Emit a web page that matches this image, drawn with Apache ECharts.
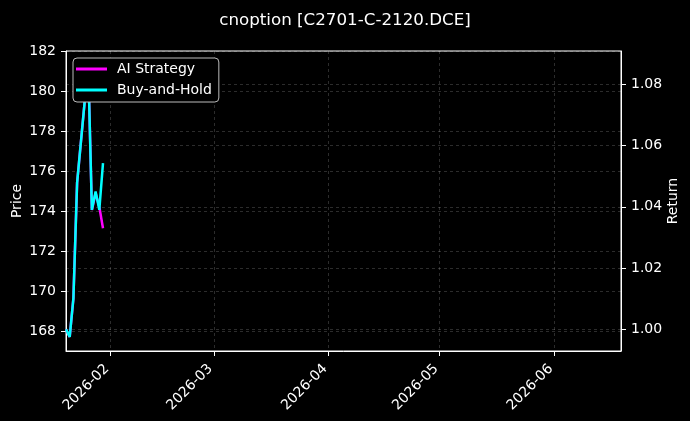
<!DOCTYPE html>
<html>
<head>
<meta charset="utf-8">
<script src="https://cdn.jsdelivr.net/npm/echarts@6/dist/echarts.min.js"></script>
<style>
  html, body { margin: 0; padding: 0; background: #000; }
  #main { width: 690px; height: 421px; }
</style>
</head>
<body>
<div id="main"></div>
<script>
// trading days shown in the chart
var dates = ['2026-01-20', '2026-01-21', '2026-01-22', '2026-01-23', '2026-01-26',
             '2026-01-27', '2026-01-28', '2026-01-29', '2026-01-30'];
// cumulative return
var aiStrategy = [1.000, 0.9975, 1.0101, 1.0478, 1.0867, 1.0390, 1.0445, 1.0400, 1.0330];
var buyHold    = [1.000, 0.9975, 1.0101, 1.0478, 1.0867, 1.0390, 1.0450, 1.0390, 1.0543];

var monthTicks  = ['2026-02-01', '2026-03-01', '2026-04-01', '2026-05-01', '2026-06-01'];
var priceTicks  = [168, 170, 172, 174, 176, 178, 180, 182];
var returnTicks = [1.00, 1.02, 1.04, 1.06, 1.08];

function ts(s) { return new Date(s + 'T00:00:00').getTime(); }
function pair(vals) {
    return dates.map(function (d, i) { return [ts(d), vals[i]]; });
}
var monthTs = monthTicks.map(ts);

var font = 'DejaVu Sans';
var gridLine = { show: true, lineStyle: { color: 'rgba(255,255,255,0.22)', type: [3, 3], width: 0.8 } };

var myChart = echarts.init(document.getElementById('main'));
var option = {
    backgroundColor: '#000',
    animation: false,
    textStyle: { fontFamily: font },
    title: {
        text: 'cnoption [C2701-C-2120.DCE]',
        left: 'center',
        top: 7,
        textStyle: { color: '#fff', fontSize: 16.7, fontWeight: 'normal', fontFamily: font }
    },
    legend: {
        left: 73,
        top: 58,
        orient: 'vertical',
        itemGap: 7,
        itemWidth: 31,
        itemHeight: 3,
        icon: 'rect',
        padding: [4, 7, 5, 3],
        backgroundColor: '#000',
        borderColor: '#bbb',
        borderWidth: 1,
        borderRadius: 4,
        textStyle: { color: '#fff', fontSize: 14, fontFamily: font, padding: [0, 0, 0, 5] },
        data: ['AI Strategy', 'Buy-and-Hold']
    },
    grid: {
        left: 66, right: 69, top: 51, bottom: 70,
        outerBoundsMode: 'none', containLabel: false,
        show: true, borderColor: '#fff', borderWidth: 1, backgroundColor: 'transparent'
    },
    xAxis: {
        type: 'value',
        min: ts('2026-01-20'),
        max: ts('2026-06-19'),
        axisLine: { show: true, onZero: false, lineStyle: { color: '#fff', width: 1 } },
        axisTick: { show: true, length: 5, lineStyle: { color: '#fff' }, customValues: monthTs },
        axisLabel: {
            color: '#fff', fontSize: 14, rotate: 45, fontFamily: font, margin: 12,
            padding: [0, 5, 0, 0],
            customValues: monthTs,
            formatter: function (v) {
                var d = new Date(v);
                var m = d.getMonth() + 1;
                return d.getFullYear() + '-' + (m < 10 ? '0' + m : m);
            }
        },
        splitLine: gridLine
    },
    yAxis: [
        {
            type: 'value',
            name: 'Price',
            nameLocation: 'middle',
            nameGap: 42,
            nameMoveOverlap: false,
            nameTextStyle: { color: '#fff', fontSize: 14, fontFamily: font },
            min: 167.0,
            max: 182.03,
            axisLine: { show: true, lineStyle: { color: '#fff', width: 1 } },
            axisTick: { show: true, length: 5, lineStyle: { color: '#fff' }, customValues: priceTicks },
            axisLabel: { color: '#fff', fontSize: 14, fontFamily: font, margin: 10, customValues: priceTicks },
            splitLine: gridLine
        },
        {
            type: 'value',
            name: 'Return',
            nameLocation: 'middle',
            nameGap: 45,
            nameMoveOverlap: false,
            nameTextStyle: { color: '#fff', fontSize: 14, fontFamily: font },
            min: 0.9929,
            max: 1.0909,
            axisLine: { show: true, lineStyle: { color: '#fff', width: 1 } },
            axisTick: { show: true, length: 5, lineStyle: { color: '#fff' }, customValues: returnTicks },
            axisLabel: {
                color: '#fff', fontSize: 14, fontFamily: font, margin: 10, customValues: returnTicks,
                formatter: function (v) { return v.toFixed(2); }
            },
            splitLine: gridLine
        }
    ],
    series: [
        {
            name: 'AI Strategy',
            type: 'line',
            yAxisIndex: 1,
            symbol: 'none',
            data: pair(aiStrategy),
            lineStyle: { color: '#ff00ff', width: 2.5 },
            itemStyle: { color: '#ff00ff' }
        },
        {
            name: 'Buy-and-Hold',
            type: 'line',
            yAxisIndex: 1,
            symbol: 'none',
            data: pair(buyHold),
            lineStyle: { color: '#00ffff', width: 2.5 },
            itemStyle: { color: '#00ffff' }
        }
    ]
};
myChart.setOption(option);
</script>
</body>
</html>
